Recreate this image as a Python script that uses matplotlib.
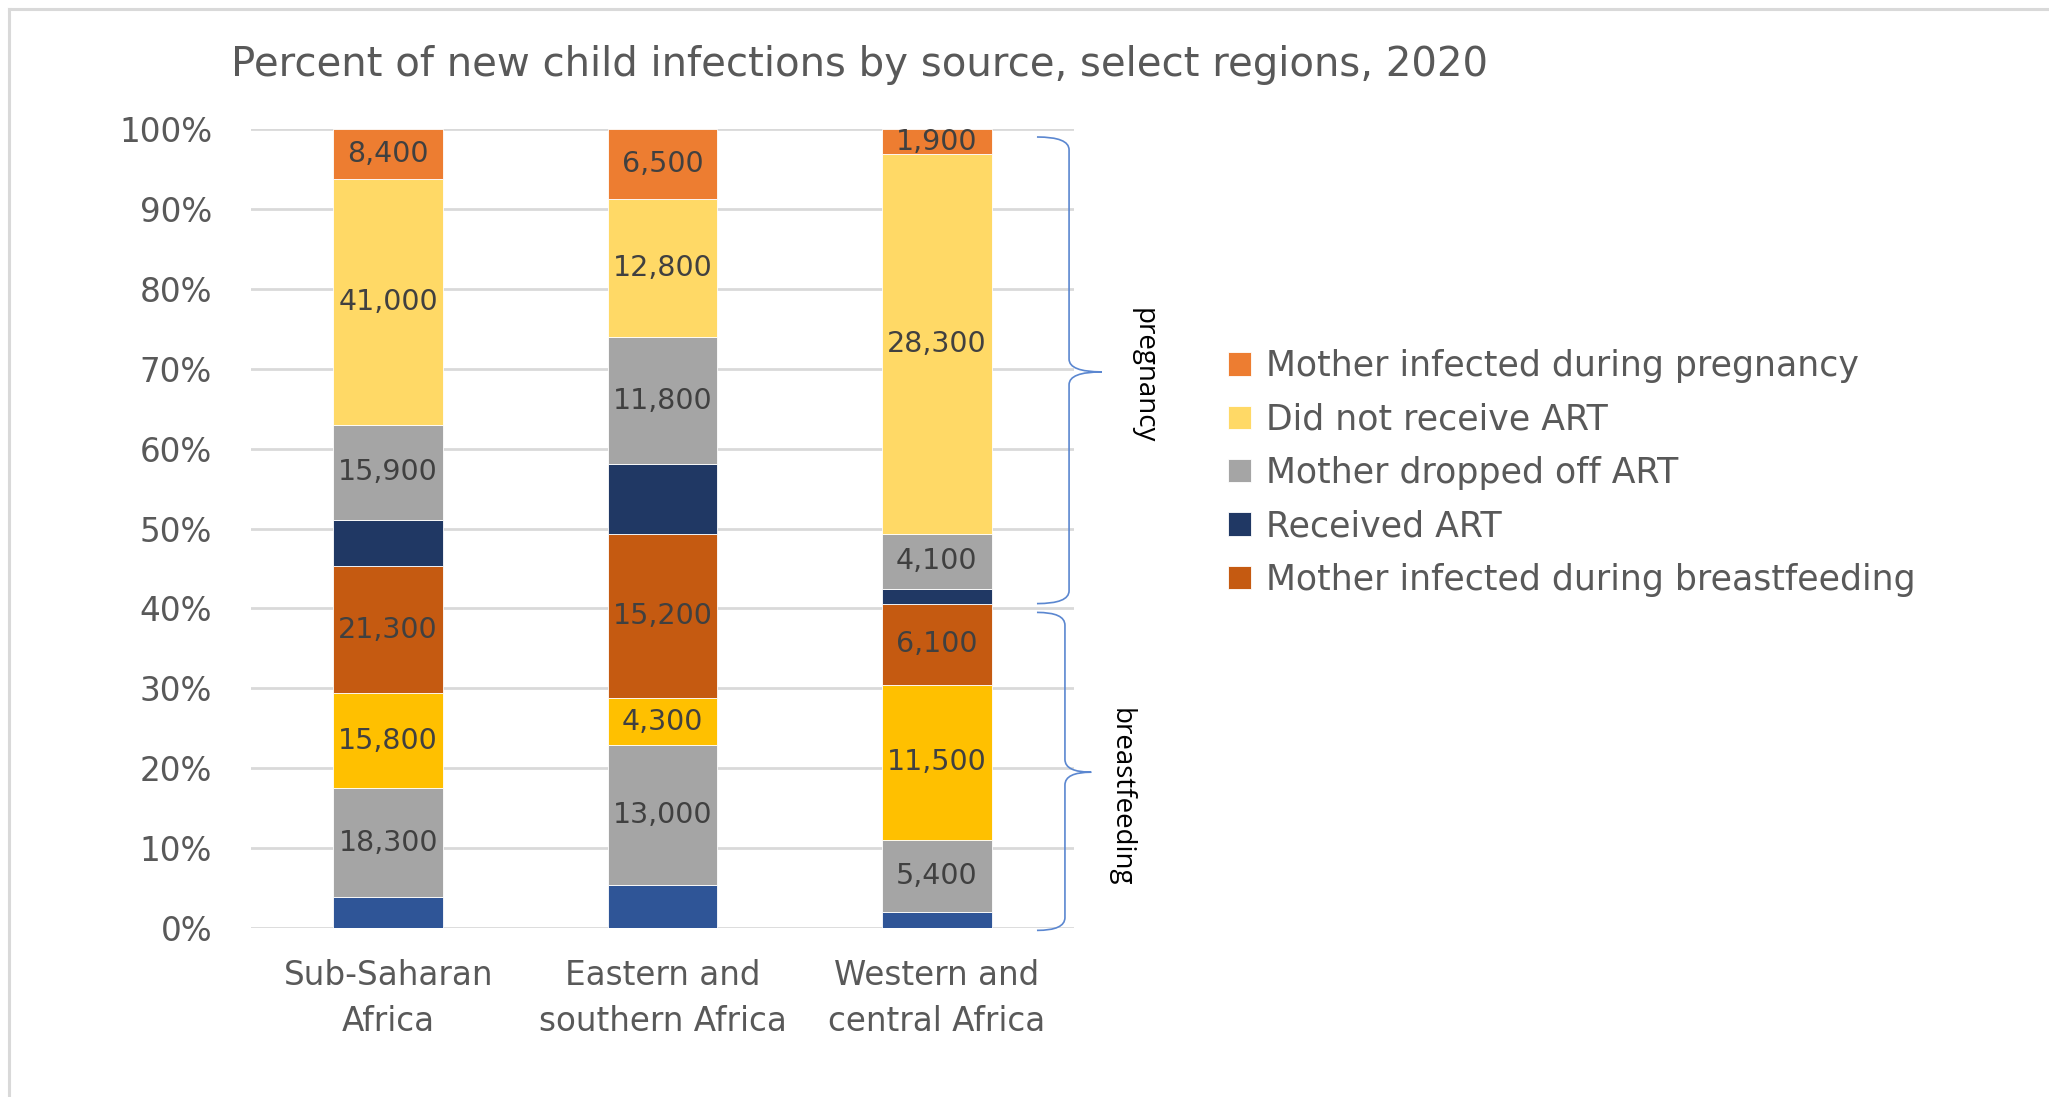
import matplotlib
matplotlib.use("Agg")
import matplotlib.pyplot as plt
from matplotlib.path import Path
from matplotlib.patches import PathPatch
from matplotlib.lines import Line2D
import matplotlib.transforms as mtransforms
import numpy as np

plt.rcParams['font.family'] = ['DejaVu Sans']

# ---- data -------------------------------------------------------------
regions = ["Sub-Saharan\nAfrica", "Eastern and\nsouthern Africa", "Western and\ncentral Africa"]

# breastfeeding-period infections (bottom of each bar)
bf_received_art = [5100, 4000, 1200]
bf_dropped_off_art = [18300, 13000, 5400]
bf_no_art = [15800, 4300, 11500]
bf_mother_infected = [21300, 15200, 6100]
# pregnancy-period infections (top of each bar)
pg_received_art = [7700, 6500, 1100]
pg_dropped_off_art = [15900, 11800, 4100]
pg_no_art = [41000, 12800, 28300]
pg_mother_infected = [8400, 6500, 1900]

series = [
    ("Received ART", bf_received_art, "#2F5597", False),
    ("Mother dropped off ART", bf_dropped_off_art, "#A5A5A5", True),
    ("Did not receive ART", bf_no_art, "#FFC000", True),
    ("Mother infected during breastfeeding", bf_mother_infected, "#C55A11", True),
    ("Received ART", pg_received_art, "#203864", False),
    ("Mother dropped off ART", pg_dropped_off_art, "#A5A5A5", True),
    ("Did not receive ART", pg_no_art, "#FFD966", True),
    ("Mother infected during pregnancy", pg_mother_infected, "#ED7D31", True),
]

title = "Percent of new child infections by source, select regions, 2020"
yticks = np.arange(0, 101, 10)
ytick_labels = [f"{t}%" for t in yticks]

# ---- figure -----------------------------------------------------------
W, H = 2049, 1097
fig = plt.figure(figsize=(W / 100, H / 100), dpi=100)
ax = fig.add_axes([251 / W, 1 - 928 / H, (1074 - 251) / W, (928 - 129) / H])

text_col = "#595959"
label_col = "#404040"

totals = np.sum([np.array(s[1], dtype=float) for s in series], axis=0)
x = np.arange(len(regions))
bottom = np.zeros(len(regions))
containers = []
for name, vals, color, labelled in series:
    vals = np.array(vals, dtype=float)
    pct = vals / totals * 100
    bars = ax.bar(x, pct, width=0.4, bottom=bottom, color=color,
                  edgecolor="white", linewidth=0.6, zorder=3)
    containers.append((name, bars))
    if labelled:
        for xi, b, p, v in zip(x, bottom, pct, vals):
            ax.text(xi, b + p / 2, f"{int(v):,}", ha="center", va="center",
                    fontsize=20.5, color=label_col, zorder=4)
    bottom = bottom + pct

ax.set_xlim(-0.5, 2.5)
ax.set_ylim(0, 100)
ax.set_yticks(yticks)
ax.set_yticklabels(ytick_labels, fontsize=23.5, color=text_col)
ax.set_xticks(x)
ax.set_xticklabels(regions, fontsize=23.5, color=text_col, linespacing=1.5)
ax.tick_params(axis="both", length=0)
ax.tick_params(axis="y", pad=28)
ax.tick_params(axis="x", pad=22)
ax.grid(axis="y", color="#D9D9D9", linewidth=2.0, zorder=0)
ax.set_axisbelow(True)
for sp in ax.spines.values():
    sp.set_visible(False)

# ---- braces marking pregnancy / breastfeeding -------------------------
trans = mtransforms.blended_transform_factory(ax.transAxes, ax.transData)


def brace(x_left, x_line, x_tip, y_top, y_bot, y_mid, r=1.6):
    verts = [
        (x_left, y_top), (x_line, y_top), (x_line, y_top - r),
        (x_line, y_mid + r), (x_line, y_mid), (x_tip, y_mid),
        (x_line, y_mid), (x_line, y_mid - r),
        (x_line, y_bot + r), (x_line, y_bot), (x_left, y_bot),
    ]
    codes = [
        Path.MOVETO, Path.CURVE3, Path.CURVE3,
        Path.LINETO, Path.CURVE3, Path.CURVE3,
        Path.CURVE3, Path.CURVE3,
        Path.LINETO, Path.CURVE3, Path.CURVE3,
    ]
    ax.add_patch(PathPatch(Path(verts, codes), transform=trans, fill=False,
                           edgecolor="#5B87D0", linewidth=1.2, clip_on=False,
                           zorder=5))


brace(0.955, 0.994, 1.034, 99.0, 40.6, 69.6)
brace(0.955, 0.989, 1.021, 39.5, -0.3, 19.5)
ax.text(1.084, 69.1, "pregnancy", transform=trans, rotation=270,
        ha="center", va="center", fontsize=20, color="black",
        family="Open Sans")
ax.text(1.057, 16.4, "breastfeeding", transform=trans, rotation=270,
        ha="center", va="center", fontsize=20, color="black",
        family="Open Sans")

# ---- legend -------------------------------------------------------------
legend_order = [7, 6, 5, 4, 3]
handles = [containers[i][1].patches[0] for i in legend_order]
labels = [containers[i][0] for i in legend_order]
leg = ax.legend(handles, labels, loc="upper left",
                bbox_to_anchor=(1228 / W, 1 - 349 / H),
                bbox_transform=fig.transFigure, frameon=False,
                fontsize=25, handlelength=0.66, handleheight=0.66,
                handletextpad=0.42, labelspacing=0.56,
                borderpad=0, borderaxespad=0)
for t in leg.get_texts():
    t.set_color(text_col)

# ---- title and outer frame ---------------------------------------------
fig.text(231 / W, 1 - 65 / H, title, ha="left", va="center",
         fontsize=29, color=text_col)
fig.add_artist(Line2D([9 / W, 1], [1 - 9 / H, 1 - 9 / H],
                      transform=fig.transFigure, color="#D9D9D9", linewidth=2.2))
fig.add_artist(Line2D([9 / W, 9 / W], [0, 1 - 9 / H],
                      transform=fig.transFigure, color="#D9D9D9", linewidth=2.2))

fig.savefig("out.png", dpi=100, facecolor="white")
